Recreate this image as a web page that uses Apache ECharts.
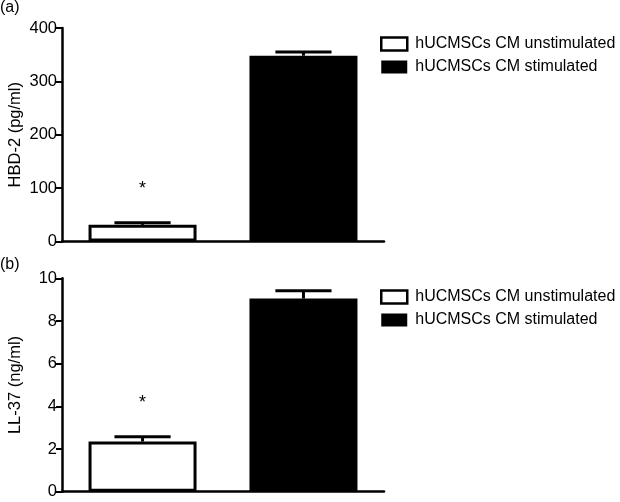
<!DOCTYPE html>
<html>
<head>
<meta charset="utf-8">
<script src="https://cdn.jsdelivr.net/npm/echarts@6/dist/echarts.min.js"></script>
<style>
html,body{margin:0;padding:0;background:#fff;}
#chart{width:620px;height:502px;}
</style>
</head>
<body>
<div id="chart"></div>
<script>
// ---- data ----
const seriesNames = ['hUCMSCs CM unstimulated', 'hUCMSCs CM stimulated'];
const categories = [''];
const hbd2Means = [31, 348];
const hbd2Errs = [4, 7];
const ll37Means = [2.35, 9.05];
const ll37Errs = [0.22, 0.37];
const sigMarks = ['*', ''];
const hbd2Ticks = { min: 0, max: 400, interval: 100 };
const ll37Ticks = { min: 0, max: 10, interval: 2 };
const panelLabels = ['(a)', '(b)'];
const yNames = ['HBD-2 (pg/ml)', 'LL-37 (ng/ml)'];

// ---- style ----
const FONT = '"Liberation Sans", Arial, Helvetica, sans-serif';
const BAR_W = 108;
const BAR_GAP = 0.49;
const fills = ['#ffffff', '#000000'];

const chart = echarts.init(document.getElementById('chart'), null, { renderer: 'canvas' });

function grid(top) {
  return { left: 62, right: 236, top: top, height: 213.4, containLabel: false, outerBoundsMode: 'none' };
}
function xAxis(gi) {
  return {
    type: 'category', gridIndex: gi, data: categories,
    axisLine: { lineStyle: { color: '#000', width: 2.5 } },
    axisTick: { alignWithLabel: true, length: 7, lineStyle: { color: '#000', width: 2 } },
    axisLabel: { show: true, color: '#000' },
    splitLine: { show: false }
  };
}
function yAxis(gi, t, name, gap) {
  return {
    type: 'value', gridIndex: gi, min: t.min, max: t.max, interval: t.interval,
    name: name, nameLocation: 'middle', nameGap: gap, nameRotate: 90, nameMoveOverlap: false,
    nameTextStyle: { fontFamily: FONT, fontSize: 16.5, color: '#000' },
    axisLine: { show: true, lineStyle: { color: '#000', width: 2.5 } },
    axisTick: { show: true, length: 6, lineStyle: { color: '#000', width: 2 } },
    axisLabel: { fontFamily: FONT, fontSize: 16.5, color: '#000', margin: 5 },
    splitLine: { show: false }
  };
}
function bars(gi, means) {
  return seriesNames.map((n, i) => ({
    type: 'bar', name: n, xAxisIndex: gi, yAxisIndex: gi,
    data: [means[i]], barWidth: BAR_W, barGap: (BAR_GAP * 100) + '%',
    itemStyle: { color: fills[i], borderColor: '#000', borderWidth: i === 0 ? 3 : 0 },
    emphasis: { disabled: true }, silent: true, z: 2
  }));
}
function errSeries(gi, means, errs) {
  const data = means.map((m, i) => [i, m, errs[i]]);
  return {
    type: 'custom', xAxisIndex: gi, yAxisIndex: gi, silent: true, z: 5,
    data: data,
    renderItem: function (params, api) {
      const idx = api.value(0), m = api.value(1), e = api.value(2);
      const cx = api.coord([0, m])[0] + (idx === 0 ? -1 : 1) * (BAR_W + BAR_W * BAR_GAP) / 2;
      const y0 = api.coord([0, m])[1];
      const y1 = api.coord([0, m + e])[1];
      const half = BAR_W * 0.26;
      const children = [
        { type: 'line', shape: { x1: cx, y1: y0, x2: cx, y2: y1 }, style: { stroke: '#000', lineWidth: 3 } },
        { type: 'line', shape: { x1: cx - half, y1: y1, x2: cx + half, y2: y1 }, style: { stroke: '#000', lineWidth: 3 } }
      ];
      if (sigMarks[idx]) {
        children.push({ type: 'text', x: cx, y: y1 - 43,
          style: { text: sigMarks[idx], fontFamily: FONT, fontSize: 18, fill: '#000', align: 'center', verticalAlign: 'top' } });
      }
      return { type: 'group', children: children };
    }
  };
}
function legend(top) {
  return {
    top: top, left: 375, orient: 'vertical', itemWidth: 26, itemHeight: 13, itemGap: 7,
    selectedMode: false,
    textStyle: { fontFamily: FONT, fontSize: 16, color: '#000', padding: [0, 0, 0, 3] },
    data: seriesNames.map((n, i) => ({
      name: n, icon: 'rect',
      itemStyle: { color: fills[i], borderColor: '#000', borderWidth: i === 0 ? 2.5 : 0 }
    }))
  };
}

chart.setOption({
  animation: false,
  backgroundColor: '#fff',
  grid: [grid(28), grid(278.3)],
  xAxis: [xAxis(0), xAxis(1)],
  yAxis: [yAxis(0, hbd2Ticks, yNames[0], 38), yAxis(1, ll37Ticks, yNames[1], 38)],
  legend: [legend(31), legend(284)],
  graphic: [
    { type: 'text', left: 0, top: 0, style: { text: panelLabels[0], fontFamily: FONT, fontSize: 16, fill: '#000' } },
    { type: 'text', left: 0, top: 257, style: { text: panelLabels[1], fontFamily: FONT, fontSize: 16, fill: '#000' } }
  ],
  series: [].concat(
    bars(0, hbd2Means), [errSeries(0, hbd2Means, hbd2Errs)],
    bars(1, ll37Means), [errSeries(1, ll37Means, ll37Errs)]
  )
});
</script>
</body>
</html>
